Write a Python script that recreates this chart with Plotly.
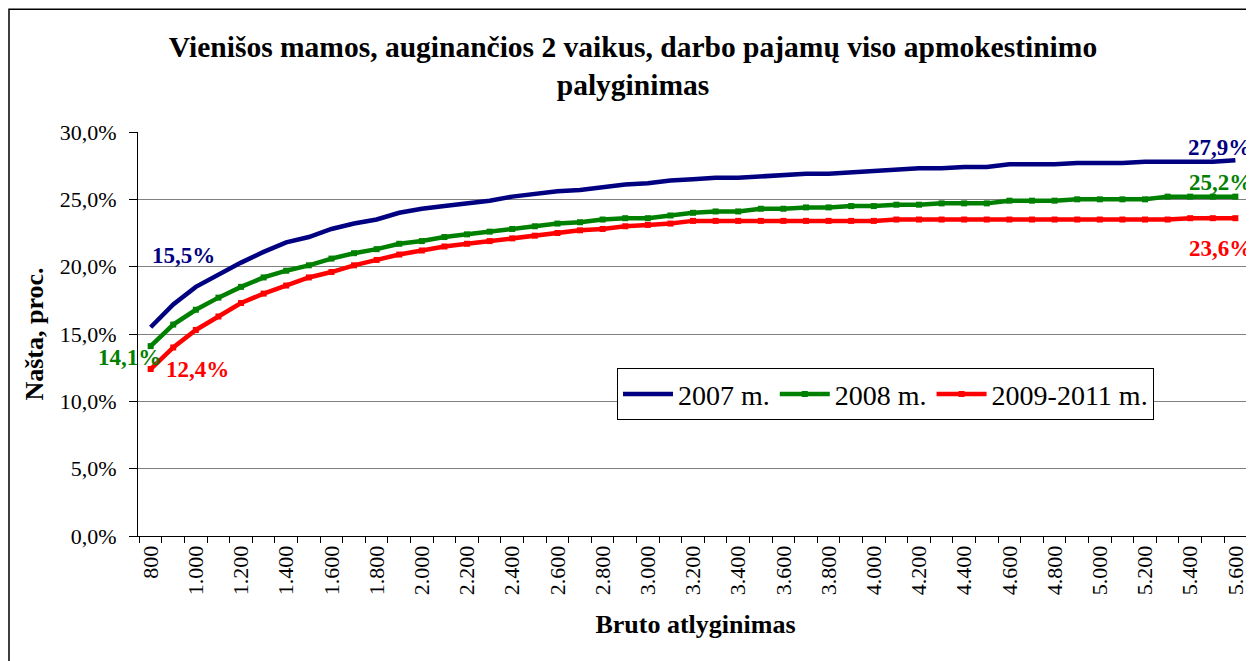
import plotly.graph_objects as go

# ==========================================================
# DATA
# ==========================================================

SALARY = [
    800, 900, 1000, 1100, 1200, 1300, 1400, 1500, 1600, 1700,
    1800, 1900, 2000, 2100, 2200, 2300, 2400, 2500, 2600, 2700,
    2800, 2900, 3000, 3100, 3200, 3300, 3400, 3500, 3600, 3700,
    3800, 3900, 4000, 4100, 4200, 4300, 4400, 4500, 4600, 4700,
    4800, 4900, 5000, 5100, 5200, 5300, 5400, 5500, 5600,
]

Y2007 = [
    15.5, 17.2, 18.5, 19.4, 20.3, 21.1, 21.8, 22.2, 22.8, 23.2,
    23.5, 24.0, 24.3, 24.5, 24.7, 24.9, 25.2, 25.4, 25.6, 25.7,
    25.9, 26.1, 26.2, 26.4, 26.5, 26.6, 26.6, 26.7, 26.8, 26.9,
    26.9, 27.0, 27.1, 27.2, 27.3, 27.3, 27.4, 27.4, 27.6, 27.6,
    27.6, 27.7, 27.7, 27.7, 27.8, 27.8, 27.8, 27.8, 27.9,
]

Y2008 = [
    14.1, 15.7, 16.8, 17.7, 18.5, 19.2, 19.7, 20.1, 20.6, 21.0,
    21.3, 21.7, 21.9, 22.2, 22.4, 22.6, 22.8, 23.0, 23.2, 23.3,
    23.5, 23.6, 23.6, 23.8, 24.0, 24.1, 24.1, 24.3, 24.3, 24.4,
    24.4, 24.5, 24.5, 24.6, 24.6, 24.7, 24.7, 24.7, 24.9, 24.9,
    24.9, 25.0, 25.0, 25.0, 25.0, 25.2, 25.2, 25.2, 25.2,
]

Y2009 = [
    12.4, 14.0, 15.3, 16.3, 17.3, 18.0, 18.6, 19.2, 19.6, 20.1,
    20.5, 20.9, 21.2, 21.5, 21.7, 21.9, 22.1, 22.3, 22.5, 22.7,
    22.8, 23.0, 23.1, 23.2, 23.4, 23.4, 23.4, 23.4, 23.4, 23.4,
    23.4, 23.4, 23.4, 23.5, 23.5, 23.5, 23.5, 23.5, 23.5, 23.5,
    23.5, 23.5, 23.5, 23.5, 23.5, 23.5, 23.6, 23.6, 23.6,
]

NAVY = "#000080"
GREEN = "#008000"
RED = "#FF0000"
GRID = "#808080"

FONT = "Liberation Serif, Times New Roman, serif"

# the page body adds an 8px margin, so the figure is 8px smaller
W = 1246
H = 653


# ==========================================================
# TRACES
# ==========================================================

fig = go.Figure()

fig.add_trace(
    go.Scatter(
        x=SALARY,
        y=Y2007,
        mode="lines",
        name="2007 m.",
        line=dict(color=NAVY, width=4.5),
    )
)

fig.add_trace(
    go.Scatter(
        x=SALARY,
        y=Y2008,
        mode="lines+markers",
        name="2008 m.",
        line=dict(color=GREEN, width=4.5),
        marker=dict(symbol="square", size=6, color=GREEN),
    )
)

fig.add_trace(
    go.Scatter(
        x=SALARY,
        y=Y2009,
        mode="lines+markers",
        name="2009-2011 m.",
        line=dict(color=RED, width=4.5),
        marker=dict(symbol="square", size=6, color=RED),
    )
)


# ==========================================================
# END LABELS
# ==========================================================

def label(x, y, color, dx, dy):
    fig.add_annotation(
        x=x,
        y=y,
        text=f"{y:.1f}%".replace(".", ","),
        showarrow=False,
        xshift=dx,
        yshift=dy,
        font=dict(family=FONT, size=23, color=color, weight="bold"),
    )


label(SALARY[0], Y2007[0], NAVY, 33, 72)
label(SALARY[0], Y2008[0], GREEN, -21, -11)
label(SALARY[0], Y2009[0], RED, 47, 0)
label(SALARY[-1], Y2007[-1], NAVY, -16, 13)
label(SALARY[-1], Y2008[-1], GREEN, -15, 14)
label(SALARY[-1], Y2009[-1], RED, -15, -30)


# ==========================================================
# LAYOUT
# ==========================================================

# outer chart frame (right / bottom edges are cropped in the original)
fig.add_shape(
    type="rect",
    xref="paper",
    yref="paper",
    x0=-0.1157,
    x1=1.2,
    y0=-0.6,
    y1=1.3037,
    line=dict(color="black", width=1.5),
    fillcolor="rgba(0,0,0,0)",
)

fig.update_layout(
    width=W,
    height=H,
    paper_bgcolor="white",
    plot_bgcolor="white",
    separators=",.",
    font=dict(family=FONT, size=22, color="black"),
    margin=dict(l=130, r=1, t=124, b=125),
    title=dict(
        text="Vienišos mamos, auginančios 2 vaikus, darbo pajamų viso apmokestinimo<br>palyginimas",
        x=625 / W,
        xref="container",
        xanchor="center",
        y=1 - 49 / H,
        yref="container",
        yanchor="top",
        font=dict(family=FONT, size=29.5, color="black", weight="bold"),
    ),
    showlegend=True,
    legend=dict(
        orientation="h",
        x=0.4296,
        y=0.415,
        xanchor="left",
        yanchor="top",
        bgcolor="white",
        bordercolor="black",
        borderwidth=1,
        itemwidth=50,
        font=dict(family=FONT, size=28, color="black"),
    ),
    xaxis=dict(
        range=[744, 5678],
        tickmode="linear",
        tick0=800,
        dtick=200,
        tickformat=",d",
        tickangle=-90,
        ticks="",
        minor=dict(
            tick0=750,
            dtick=100,
            ticks="outside",
            ticklen=6,
            tickcolor="black",
            showgrid=False,
        ),
        showline=True,
        linecolor="black",
        linewidth=1,
        showgrid=False,
        zeroline=False,
        tickfont=dict(family=FONT, size=22),
        title=dict(
            text="Bruto atlyginimas",
            standoff=20,
            font=dict(family=FONT, size=26, weight="bold"),
        ),
    ),
    yaxis=dict(
        range=[0, 30],
        dtick=5,
        tickformat=".1f",
        ticksuffix="%",
        ticks="outside",
        ticklen=8,
        tickcolor="black",
        ticklabelstandoff=8,
        showline=True,
        linecolor="black",
        linewidth=1,
        showgrid=True,
        gridcolor=GRID,
        gridwidth=1,
        zeroline=False,
        tickfont=dict(family=FONT, size=22),
        title=dict(
            text="Našta, proc.",
            standoff=8,
            font=dict(family=FONT, size=26, weight="bold"),
        ),
    ),
)

fig.write_html("out.html")
